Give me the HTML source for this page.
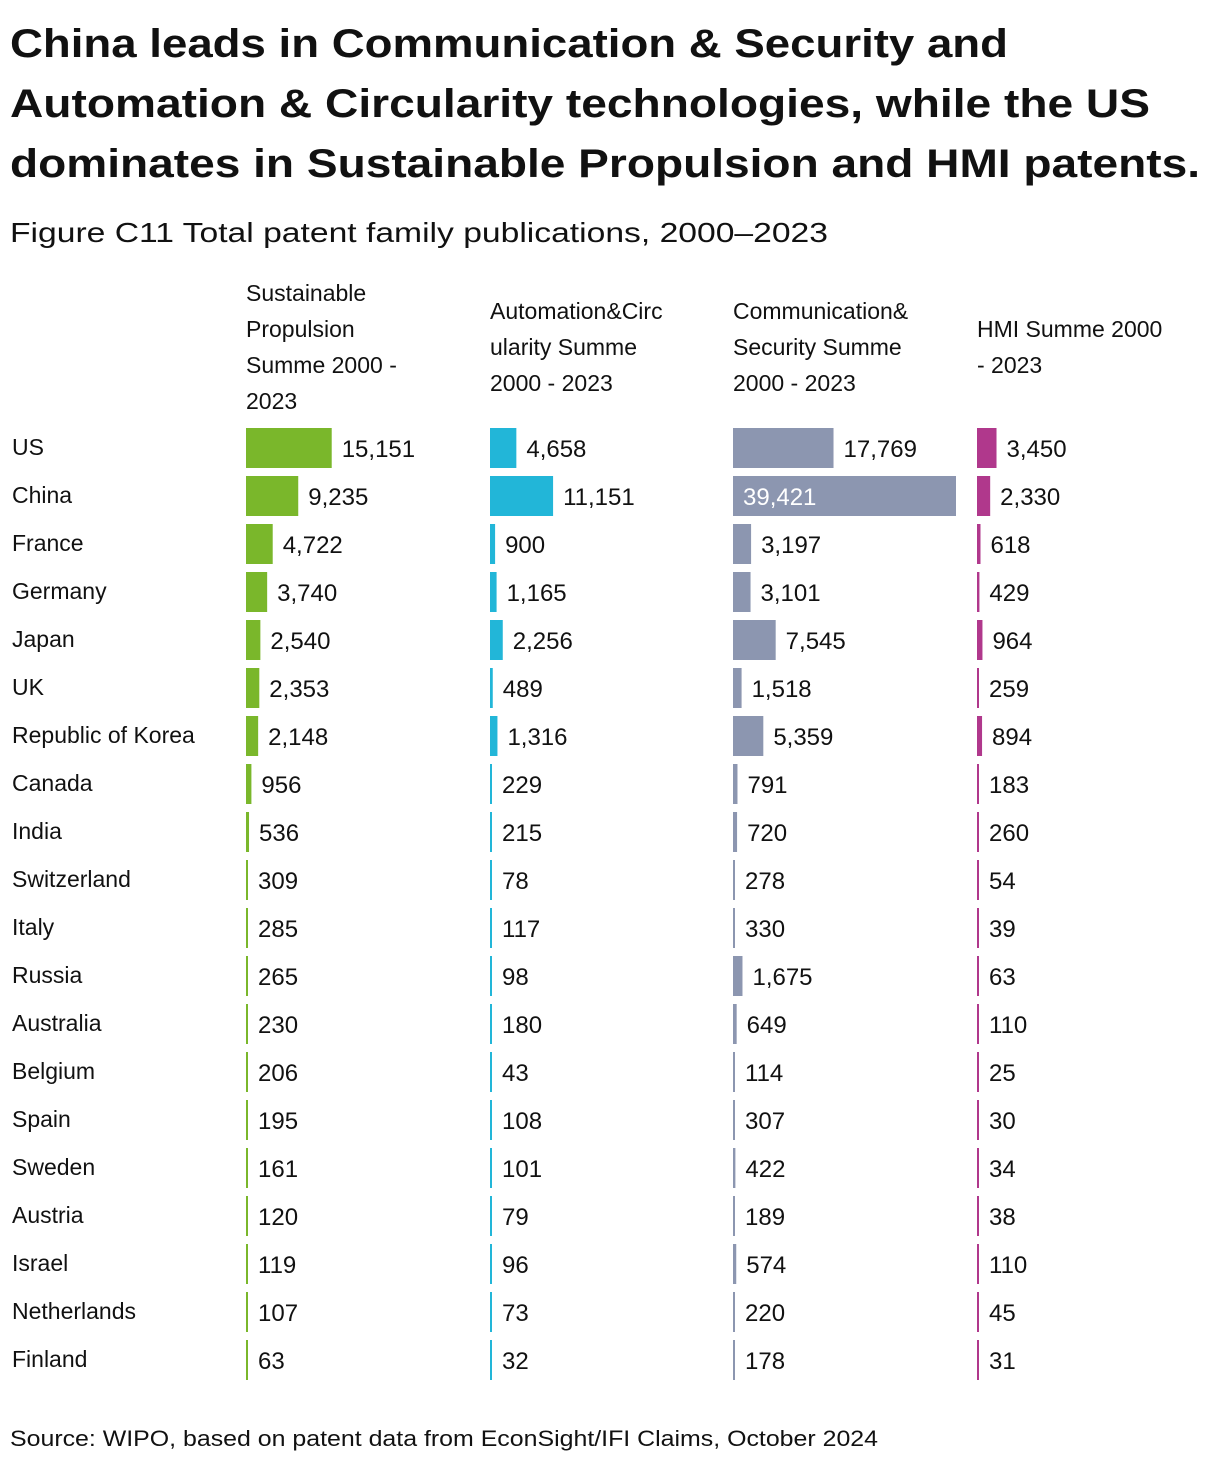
<!DOCTYPE html>
<html><head><meta charset="utf-8"><style>
html,body{margin:0;padding:0;background:#fff;}
svg text{font-family:"Liberation Sans",sans-serif;fill:#111;}
</style></head><body>
<svg id="chart" width="1220" height="1464" viewBox="0 0 1220 1464" xmlns="http://www.w3.org/2000/svg">
<text x="10" y="57" font-size="40" font-weight="bold" textLength="998" lengthAdjust="spacingAndGlyphs">China leads in Communication &amp; Security and</text>
<text x="10" y="117" font-size="40" font-weight="bold" textLength="1140" lengthAdjust="spacingAndGlyphs">Automation &amp; Circularity technologies, while the US</text>
<text x="10" y="177" font-size="40" font-weight="bold" textLength="1190" lengthAdjust="spacingAndGlyphs">dominates in Sustainable Propulsion and HMI patents.</text>
<text x="10" y="242" font-size="28" textLength="818" lengthAdjust="spacingAndGlyphs">Figure C11 Total patent family publications, 2000–2023</text>
<text x="10" y="1446" font-size="22" textLength="868" lengthAdjust="spacingAndGlyphs">Source: WIPO, based on patent data from EconSight/IFI Claims, October 2024</text>
<g id="plot"></g>
</svg>
<script>
const countries = ["US","China","France","Germany","Japan","UK","Republic of Korea","Canada","India","Switzerland","Italy","Russia","Australia","Belgium","Spain","Sweden","Austria","Israel","Netherlands","Finland"];
const sustainable = [15151,9235,4722,3740,2540,2353,2148,956,536,309,285,265,230,206,195,161,120,119,107,63];
const automation = [4658,11151,900,1165,2256,489,1316,229,215,78,117,98,180,43,108,101,79,96,73,32];
const communication = [17769,39421,3197,3101,7545,1518,5359,791,720,278,330,1675,649,114,307,422,189,574,220,178];
const hmi = [3450,2330,618,429,964,259,894,183,260,54,39,63,110,25,30,34,38,110,45,31];
const headers = [["Sustainable","Propulsion","Summe 2000 -","2023"],["Automation&Circ","ularity Summe","2000 - 2023"],["Communication&","Security Summe","2000 - 2023"],["HMI Summe 2000","- 2023"]];

const NS="http://www.w3.org/2000/svg";
const g=document.getElementById('plot');
const series=[sustainable,automation,communication,hmi];
const colors=["#7ab72b","#22b6d8","#8c96b0","#b0388c"];
const names=["sustainable","automation","communication","hmi"];
const colX=[246,490,733,977];
const maxAll=Math.max(...communication);
const xScale=v=>Math.max(2,v/maxAll*223);
const yRow=i=>428+i*48;
function mk(t,a){const e=document.createElementNS(NS,t);for(const k in a)e.setAttribute(k,a[k]);g.appendChild(e);return e;}
const fmt=v=>v.toLocaleString('en-US');
headers.forEach((h,c)=>{
  const start=c===0?301:(h.length===3?319:337);
  h.forEach((line,j)=>{
    const t=mk('text',{x:colX[c],y:start+j*36,'font-size':23});
    
    
    t.textContent=line;
  });
});
countries.forEach((name,i)=>{
  const t=mk('text',{x:12,y:yRow(i)+27,'font-size':23});
  
  
  t.textContent=name;
  series.forEach((s,c)=>{
    const w=xScale(s[i]);
    const r=mk('rect',{x:colX[c],y:yRow(i),width:w,height:40,fill:colors[c]});
    
    
    const inside=w>180;
    const v=mk('text',{x:inside?colX[c]+10:colX[c]+w+10,y:yRow(i)+29,'font-size':24});
    if(inside)v.style.fill='#fff';
    
    
    v.textContent=fmt(s[i]);
  });
});
</script>
</body></html>
